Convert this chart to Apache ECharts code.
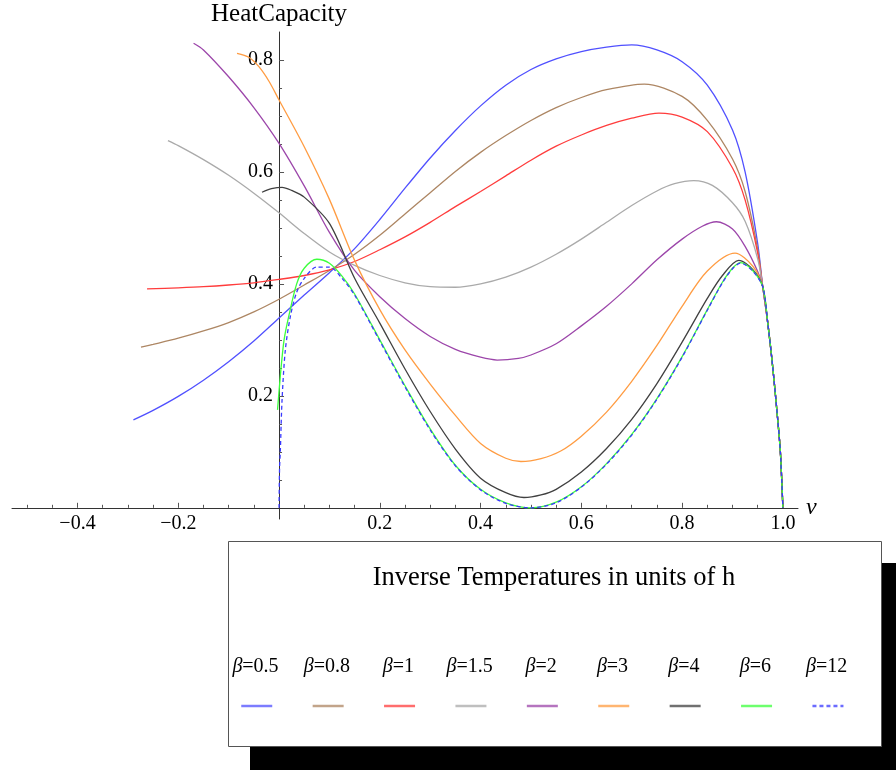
<!DOCTYPE html>
<html><head><meta charset="utf-8">
<script src="https://cdn.jsdelivr.net/npm/echarts@6/dist/echarts.min.js"></script>
<style>html,body{margin:0;padding:0;background:#fff}#c{width:896px;height:770px}</style>
</head><body><div id="c"></div>
<script>
// ---- data ----
const betas = ['0.5', '0.8', '1', '1.5', '2', '3', '4', '6', '12'];
const legendTitle = 'Inverse Temperatures in units of h';
const yName = 'HeatCapacity';
const xName = 'ν';
const xMajorTicks = [-0.4, -0.2, 0.2, 0.4, 0.6, 0.8, 1.0];
const xMinorTicks = [-0.5, -0.45, -0.35, -0.3, -0.25, -0.15, -0.1, -0.05, 0.05, 0.1, 0.15, 0.25, 0.3, 0.35, 0.45, 0.5, 0.55, 0.65, 0.7, 0.75, 0.85, 0.9, 0.95];
const yMajorTicks = [0.2, 0.4, 0.6, 0.8];
const yMinorTicks = [0.05, 0.1, 0.15, 0.25, 0.3, 0.35, 0.45, 0.5, 0.55, 0.65, 0.7, 0.75];

const nu_b05 = [-0.289,-0.25,-0.2,-0.15,-0.1,-0.05,0,0.05,0.1,0.15,0.2,0.25,0.3,0.35,0.4,0.45,0.5,0.55,0.6,0.65,0.7,0.75,0.8,0.85,0.9,0.925,0.95,0.96,0.97,0.98,0.99,0.995,1.0];
const c_b05  = [0.157,0.174,0.199,0.228,0.261,0.298,0.339,0.38,0.42,0.463,0.515,0.571,0.625,0.674,0.718,0.755,0.783,0.802,0.815,0.823,0.827,0.818,0.797,0.755,0.675,0.6,0.472,0.395,0.33,0.25,0.155,0.1,0];

const nu_b08 = [-0.274,-0.25,-0.2,-0.15,-0.1,-0.05,0,0.05,0.1,0.15,0.2,0.25,0.3,0.35,0.4,0.45,0.5,0.55,0.6,0.65,0.725,0.8,0.85,0.9,0.925,0.95,0.96,0.97,0.98,0.99,0.995,1.0];
const c_b08  = [0.287,0.292,0.303,0.316,0.331,0.35,0.3726,0.398,0.424,0.453,0.487,0.525,0.563,0.601,0.635,0.665,0.692,0.715,0.733,0.747,0.757,0.735,0.692,0.623,0.565,0.462,0.395,0.33,0.25,0.155,0.1,0];

const nu_b1 = [-0.262,-0.2,-0.15,-0.1,-0.05,0,0.05,0.1,0.15,0.2,0.25,0.3,0.35,0.4,0.45,0.5,0.55,0.6,0.65,0.7,0.754,0.8,0.85,0.9,0.925,0.95,0.96,0.97,0.98,0.99,0.995,1.0];
const c_b1  = [0.391,0.393,0.395,0.398,0.402,0.408,0.415,0.425,0.44,0.461,0.484,0.51,0.538,0.565,0.593,0.621,0.646,0.666,0.683,0.696,0.705,0.698,0.672,0.607,0.55,0.455,0.395,0.33,0.25,0.155,0.1,0];

const nu_b15 = [-0.2205,-0.2,-0.15,-0.1,-0.05,0,0.05,0.1,0.15,0.2,0.25,0.3,0.35,0.4,0.45,0.5,0.55,0.6,0.65,0.7,0.75,0.785,0.823,0.86,0.9,0.925,0.95,0.96,0.97,0.98,0.99,0.995,1.0];
const c_b15  = [0.656,0.647,0.622,0.594,0.562,0.527,0.49,0.457,0.433,0.415,0.402,0.395,0.394,0.40,0.412,0.43,0.453,0.48,0.51,0.54,0.566,0.579,0.5845,0.576,0.545,0.512,0.445,0.395,0.33,0.25,0.155,0.1,0];

const nu_b2 = [-0.1696,-0.15,-0.1,-0.05,0,0.05,0.1,0.15,0.2,0.25,0.3,0.35,0.4,0.433,0.475,0.5,0.55,0.6,0.65,0.7,0.75,0.8,0.84,0.868,0.9,0.925,0.95,0.96,0.97,0.98,0.99,0.995,1.0];
const c_b2  = [0.830,0.818,0.77,0.715,0.651,0.575,0.492,0.424,0.377,0.338,0.306,0.283,0.269,0.264,0.267,0.273,0.293,0.325,0.36,0.40,0.443,0.48,0.503,0.511,0.498,0.467,0.422,0.395,0.33,0.25,0.155,0.1,0];

const nu_b3 = [-0.0834,-0.06,-0.04,-0.02,0,0.05,0.1,0.15,0.2,0.25,0.3,0.35,0.4,0.45,0.48,0.52,0.56,0.6,0.65,0.7,0.75,0.8,0.85,0.905,0.94,0.96,0.97,0.98,0.99,0.995,1.0];
const c_b3  = [0.812,0.805,0.788,0.762,0.7286,0.645,0.551,0.442,0.354,0.282,0.221,0.165,0.115,0.0885,0.0827,0.088,0.102,0.128,0.171,0.226,0.29,0.36,0.423,0.455,0.432,0.395,0.33,0.25,0.155,0.1,0];

const nu_b4 = [-0.0338,-0.015,0.006,0.025,0.05,0.1,0.15,0.2,0.25,0.3,0.35,0.4,0.45,0.486,0.52,0.55,0.6,0.65,0.7,0.75,0.8,0.85,0.88,0.9125,0.94,0.96,0.97,0.98,0.99,0.995,1.0];
const c_b4  = [0.5637,0.57,0.5726,0.567,0.555,0.508,0.41,0.33,0.248,0.172,0.105,0.053,0.027,0.0184,0.023,0.033,0.064,0.106,0.158,0.222,0.296,0.374,0.415,0.442,0.426,0.395,0.33,0.25,0.155,0.1,0];

const nu_b6 = [-0.003,0.003,0.01,0.02,0.035,0.05,0.075,0.1,0.125,0.15,0.2,0.25,0.3,0.35,0.4,0.45,0.5,0.55,0.6,0.65,0.7,0.75,0.8,0.85,0.88,0.9,0.916,0.94,0.96,0.97,0.98,0.99,0.995,1.0];
const c_b6  = [0.175,0.24,0.30,0.345,0.40,0.428,0.444,0.437,0.414,0.382,0.30,0.218,0.141,0.076,0.033,0.009,0,0.01,0.0375,0.079,0.131,0.195,0.27,0.354,0.403,0.428,0.438,0.424,0.395,0.33,0.25,0.155,0.1,0];

const nu_b12 = [0,0.001,0.0025,0.006,0.0125,0.0225,0.035,0.05,0.075,0.1,0.125,0.15,0.2,0.25,0.3,0.35,0.4,0.45,0.5,0.55,0.6,0.65,0.7,0.75,0.8,0.85,0.88,0.9,0.916,0.94,0.96,0.97,0.98,0.99,0.995,1.0];
const c_b12  = [0,0.07,0.10,0.193,0.282,0.342,0.385,0.41,0.43,0.43,0.41,0.38,0.298,0.216,0.139,0.075,0.032,0.008,0,0.009,0.037,0.078,0.13,0.194,0.269,0.353,0.402,0.427,0.437,0.423,0.395,0.33,0.25,0.155,0.1,0];

// ---- layout & styles ----
const nus = [nu_b05, nu_b08, nu_b1, nu_b15, nu_b2, nu_b3, nu_b4, nu_b6, nu_b12];
const cs  = [c_b05, c_b08, c_b1, c_b15, c_b2, c_b3, c_b4, c_b6, c_b12];
const colors = ['#5050ff', '#ad8663', '#ff3c3c', '#aaaaaa', '#9c46aa', '#ff9c42', '#404040', '#3cff3c', '#3a3aff'];
const FONT = 'Liberation Serif';
const names = betas.map(b => 'β=' + b);

const X_MIN = -0.53, X_MAX = 1.03, Y_MIN = -0.02, Y_MAX = 0.85;
const G_LEFT = 12, G_RIGHT = 98, G_TOP = 32, G_BOTTOM = 251;
const plotW = 896 - G_LEFT - G_RIGHT, plotH = 770 - G_TOP - G_BOTTOM;
// shift axes inward so they cross at the origin
const yAxisOffset = -(0 - X_MIN) / (X_MAX - X_MIN) * plotW;
const xAxisOffset = -(0 - Y_MIN) / (Y_MAX - Y_MIN) * plotH;

const zip = (a, b) => a.map((v, i) => [v, b[i]]);
const fmt = v => (v < 0 ? '\u2212' : '') + Math.abs(v).toFixed(1);

const series = names.map((n, i) => ({
  name: n, type: 'line', data: zip(nus[i], cs[i]),
  xAxisIndex: 0, yAxisIndex: 0,
  symbol: 'none', showSymbol: false, smooth: 0.3,
  clip: false,
  lineStyle: { color: colors[i], width: 1.3, type: i === 8 ? [4, 3] : 'solid' },
  itemStyle: { color: colors[i] },
  emphasis: { disabled: true }
}));

const legStart = 240, legStep = 71.4, legW = 31;
const legends = names.map((n, i) => ({
  data: [n], left: legStart + i * legStep, top: 699,
  itemWidth: legW, itemHeight: 14, itemGap: 0, padding: 0,
  selectedMode: false, formatter: () => '',
  lineStyle: { width: 2.5, opacity: 0.75 },
  itemStyle: { opacity: 0, borderWidth: 0 },
  textStyle: { fontSize: 1 }
}));

const graphics = [
  { type: 'rect', shape: { x: 250, y: 563, width: 646, height: 207 }, style: { fill: '#000' }, z: 0 },
  { type: 'rect', shape: { x: 228.5, y: 541.5, width: 653, height: 205 }, style: { fill: '#fff', stroke: '#555', lineWidth: 1 }, z: 1 },
  { type: 'text', x: 554, y: 578, z: 2, style: { text: legendTitle, font: '26.5px "Liberation Serif"', fill: '#000', align: 'center', verticalAlign: 'middle' } }
].concat(names.map((n, i) => ({
  type: 'text', x: legStart + i * legStep + legW / 2, y: 667, z: 2,
  style: {
    text: '{g|β}=' + betas[i],
    fontFamily: FONT, fontSize: 20, fill: '#000', align: 'center', verticalAlign: 'middle',
    rich: { g: { fontFamily: FONT, fontSize: 20, fontStyle: 'italic', fill: '#000' } }
  }
})));

const lineSt = { color: '#333', width: 1 };
const tickSt = { color: '#555' };

const option = {
  animation: false,
  backgroundColor: '#fff',
  grid: { left: G_LEFT, right: G_RIGHT, top: G_TOP, bottom: G_BOTTOM, containLabel: false, outerBoundsMode: 'none' },
  xAxis: [
    {
      type: 'value', min: X_MIN, max: X_MAX, position: 'bottom', offset: xAxisOffset,
      splitLine: { show: false },
      name: xName, nameLocation: 'end', nameGap: 8,
      nameTextStyle: { fontFamily: FONT, fontSize: 24, fontStyle: 'italic', color: '#000', verticalAlign: 'middle', align: 'left' },
      axisLine: { show: true, onZero: false, lineStyle: lineSt },
      axisTick: { show: true, inside: true, length: 5, customValues: xMajorTicks, lineStyle: tickSt },
      axisLabel: { show: true, customValues: xMajorTicks, formatter: fmt, margin: 6, fontFamily: FONT, fontSize: 20, color: '#000' }
    },
    {
      type: 'value', min: X_MIN, max: X_MAX, position: 'bottom', offset: xAxisOffset,
      splitLine: { show: false },
      axisLine: { show: false, onZero: false },
      axisTick: { show: true, inside: true, length: 3, customValues: xMinorTicks, lineStyle: tickSt },
      axisLabel: { show: false }
    }
  ],
  yAxis: [
    {
      type: 'value', min: Y_MIN, max: Y_MAX, position: 'left', offset: yAxisOffset,
      splitLine: { show: false },
      name: yName, nameLocation: 'end', nameGap: 18,
      nameTextStyle: { fontFamily: FONT, fontSize: 25, color: '#000', verticalAlign: 'middle', align: 'center' },
      axisLine: { show: true, onZero: false, lineStyle: lineSt },
      axisTick: { show: true, inside: true, length: 5, customValues: yMajorTicks, lineStyle: tickSt },
      axisLabel: { show: true, customValues: yMajorTicks, formatter: fmt, margin: 6, fontFamily: FONT, fontSize: 20, color: '#000' }
    },
    {
      type: 'value', min: Y_MIN, max: Y_MAX, position: 'left', offset: yAxisOffset,
      splitLine: { show: false },
      axisLine: { show: false, onZero: false },
      axisTick: { show: true, inside: true, length: 3, customValues: yMinorTicks, lineStyle: tickSt },
      axisLabel: { show: false }
    }
  ],
  legend: legends,
  graphic: graphics,
  series: series
};

const chart = echarts.init(document.getElementById('c'), null, { renderer: 'canvas' });
chart.setOption(option);
</script>
</body></html>
